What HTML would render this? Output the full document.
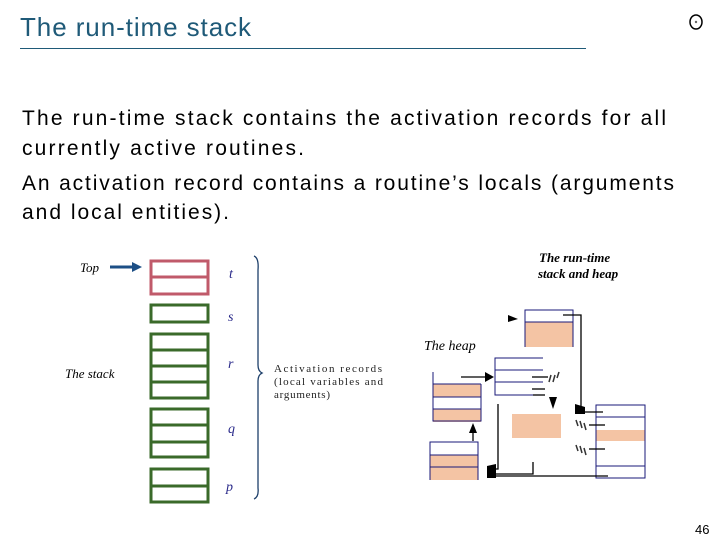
<!DOCTYPE html>
<html><head><style>
body{margin:0;background:#fff;}
svg{display:block;}
</style></head><body>
<svg width="720" height="540" viewBox="0 0 720 540" xmlns="http://www.w3.org/2000/svg">
<rect width="720" height="540" fill="#fff"/>
<text x="20" y="36" font-family="Liberation Sans, sans-serif" font-size="26" fill="#1f5a78" textLength="231">The run-time stack</text>
<line x1="20" y1="48.5" x2="586" y2="48.5" stroke="#1f5a78" stroke-width="1"/>
<ellipse cx="696" cy="22" rx="6" ry="7" fill="none" stroke="#000" stroke-width="1.5"/>
<circle cx="696" cy="22" r="1.2" fill="#666"/>
<g font-family="Liberation Sans, sans-serif" font-size="21" fill="#000">
<text x="22" y="125" textLength="644">The run-time stack contains the activation records for all</text>
<text x="22" y="155" textLength="282">currently active routines.</text>
<text x="22" y="190" textLength="652">An activation record contains a routine’s locals (arguments</text>
<text x="22" y="219" textLength="207">and local entities).</text>
</g>
<text x="695" y="534" font-family="Liberation Sans, sans-serif" font-size="13" fill="#000">46</text>
<g font-family="Liberation Serif, serif" font-style="italic">
<text x="80" y="272" font-size="13">Top</text>
<text x="65" y="378" font-size="13">The stack</text>
<g fill="#2a2a8a" font-size="14">
<text x="229" y="278">t</text><text x="228" y="321">s</text><text x="228" y="368">r</text><text x="228" y="433">q</text><text x="226" y="491">p</text>
</g></g>
<line x1="110" y1="267" x2="134" y2="267" stroke="#1d4f86" stroke-width="3"/>
<polygon points="132,262 142,267 132,272" fill="#1d4f86"/>
<g fill="none" stroke-width="3">
<rect x="151" y="261" width="57" height="33" stroke="#c05a6a"/>
<line x1="151" y1="277" x2="208" y2="277" stroke="#c05a6a"/>
<g stroke="#3a6a2a">
<rect x="151" y="305" width="57" height="17"/>
<rect x="151" y="334" width="57" height="64"/>
<line x1="151" y1="350" x2="208" y2="350"/><line x1="151" y1="366" x2="208" y2="366"/><line x1="151" y1="382" x2="208" y2="382"/>
<rect x="151" y="409" width="57" height="48"/>
<line x1="151" y1="425" x2="208" y2="425"/><line x1="151" y1="442" x2="208" y2="442"/>
<rect x="151" y="469" width="57" height="33"/>
<line x1="151" y1="486" x2="208" y2="486"/>
</g></g>
<path d="M254,256 Q259,258 258,270 L258,365 Q258,371 262,373 Q258,375 258,381 L258,488 Q259,497 254,499" fill="none" stroke="#1d3f6a" stroke-width="1.3"/>
<g font-family="Liberation Serif, serif" font-size="11" fill="#222">
<text x="274" y="372" textLength="108">Activation records</text>
<text x="274" y="385" textLength="109">(local variables and</text>
<text x="274" y="398" textLength="56">arguments)</text>
</g>
<g font-family="Liberation Serif, serif" font-style="italic">
<text x="539" y="262" font-size="13" font-weight="bold">The run-time</text>
<text x="538" y="278" font-size="13" font-weight="bold">stack and heap</text>
<text x="424" y="350" font-size="14">The heap</text>
</g>
<g fill="#f4c4a4">
<rect x="525" y="322" width="48" height="25"/>
<rect x="433" y="384" width="48" height="13"/>
<rect x="433" y="409" width="48" height="13"/>
<rect x="430" y="455" width="48" height="25"/>
<rect x="512" y="414" width="49" height="24"/>
<rect x="596" y="430" width="49" height="11"/>
</g>
<g fill="none" stroke="#1a1a7a" stroke-width="1">
<path d="M525,347 V310 H573 V347"/>
<line x1="525" y1="322" x2="573" y2="322"/>
<path d="M543,358 H495 V395 H543 M495,370 H543 M495,382 H543"/>
<path d="M433,372 V421 H481 V384 M433,384 H481 M433,397 H481 M433,409 H481"/>
<path d="M430,480 V442 H478 V480 M430,455 H478 M430,467 H478"/>
<rect x="596" y="405" width="49" height="73"/>
<line x1="596" y1="417" x2="645" y2="417"/><line x1="596" y1="466" x2="645" y2="466"/>
</g>
<g fill="none" stroke="#000" stroke-width="1.3">
<path d="M563,315 H581 V409"/>
<line x1="461" y1="377" x2="487" y2="377"/>
<line x1="532" y1="377" x2="548" y2="377"/><line x1="532" y1="389" x2="545" y2="389"/><line x1="533" y1="395" x2="545" y2="395"/>
<line x1="473" y1="441" x2="473" y2="430"/>
<path d="M498,404 V469 H490"/>
<path d="M533,462 V474 H490"/>
<line x1="608" y1="476" x2="490" y2="476"/>
<line x1="581" y1="412" x2="603" y2="412"/><line x1="589" y1="425" x2="605" y2="425"/><line x1="589" y1="449" x2="605" y2="449"/>
</g>
<g fill="#000">
<polygon points="508,315 518,319 508,322"/>
<polygon points="485,372 494,377 485,382"/>
<polygon points="549,397 557,397 553,409"/>
<polygon points="469,433 477,433 473,423"/>
<polygon points="575,404 585,407 585,414 575,414"/>
<polygon points="487,466 496,464 496,478 487,478"/>
</g>
<g stroke="#333" stroke-width="1.5">
<line x1="549" y1="382" x2="551" y2="375"/><line x1="553" y1="382" x2="555" y2="375"/><line x1="557" y1="378" x2="559" y2="372"/>
<line x1="576" y1="420" x2="578" y2="426"/><line x1="580" y1="421" x2="582" y2="428"/><line x1="584" y1="423" x2="586" y2="430"/>
<line x1="576" y1="445" x2="578" y2="451"/><line x1="580" y1="446" x2="582" y2="453"/><line x1="584" y1="448" x2="586" y2="455"/>
</g>
</svg>
</body></html>
